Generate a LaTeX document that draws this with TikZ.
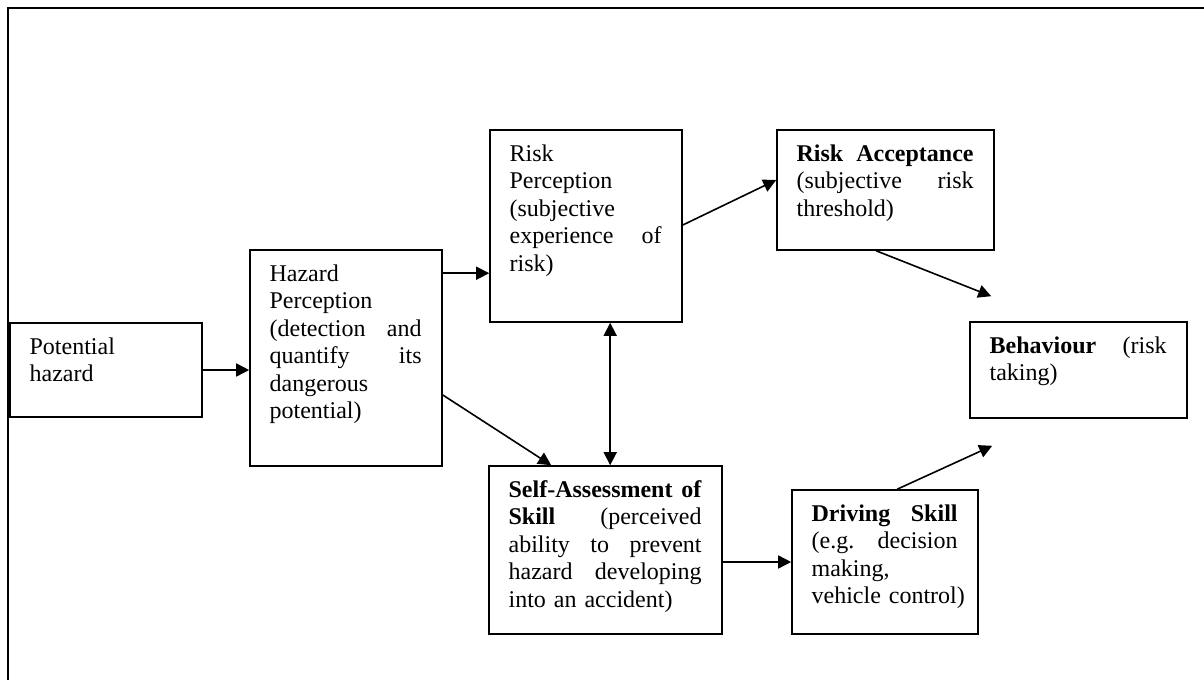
\documentclass[tikz,border=0pt]{standalone}
\usepackage{fontspec}
\setmainfont{Liberation Serif}
\usetikzlibrary{arrows.meta,calc}
\tikzset{
  boxsty/.style={draw,line width=0.8pt,inner sep=0pt,rectangle},
  txtsty/.style={anchor=north west,inner sep=0pt,align=left,font=\fontsize{12pt}{13.7pt}\selectfont},
  arr/.style={line width=0.8pt,-{Triangle[length=6.5pt,width=6.5pt]}},
  darr/.style={line width=0.8pt,{Triangle[length=6.5pt,width=6.5pt]}-{Triangle[length=6.5pt,width=6.5pt]}}
}
\newcommand{\mkbox}[6]{%
  \node[boxsty,minimum width=#4*0.5pt,minimum height=#5*0.5pt] (#1) at (#2,#3) {};
  \node[txtsty,text width=#4*0.5pt-20pt] (#1t) at ($(#1.north west)+(20,12.7)$) {#6};}
\begin{document}
\begin{tikzpicture}[x=0.5pt,y=-0.5pt]
\useasboundingbox (0,0) rectangle (1204,680);
\coordinate (fl) at (8,680);
\coordinate (fc) at (8,8);
\coordinate (fr) at (1204,8);
\draw[line width=1pt] (fl) -- (fc) -- (fr);
\mkbox{pot}{106}{370}{192}{94}{\strut Potential\\hazard}
\mkbox{hp}{346}{358}{192}{216}{\strut Hazard\\Perception\\(detection\hfill and\\quantify\hfill its\\dangerous\\potential)}
\mkbox{rp}{586}{226}{192}{192}{\strut Risk\\Perception\\(subjective\\experience\hfill of\\risk)}
\mkbox{ra}{885.5}{190}{217}{120}{\strut\textbf{Risk\hfill Acceptance}\\(subjective\hfill risk\\threshold)}
\mkbox{bh}{1078.5}{370}{217}{96}{\strut\textbf{Behaviour}\hfill(risk\\taking)}
\mkbox{sa}{605.5}{550}{233}{168}{\strut\textbf{Self-Assessment\hfill of}\\\textbf{Skill}\hfill(perceived\\ability\hfill to\hfill prevent\\hazard\hfill developing\\into an accident)}
\mkbox{ds}{885}{562}{186}{144}{\strut\textbf{Driving\hfill Skill}\\(e.g.\hfill decision\\making,\\\mbox{vehicle control)}}
\coordinate (hprp) at ($(hp.north east)+(0,24)$);
\coordinate (rabh) at ($(bh.north west)+(22,-25)$);
\coordinate (dsbh) at ($(bh.south west)+(23,27)$);
\draw[arr] (pot.east) -- (hp.west |- pot.east);
\draw[arr] (hprp) -- (rp.west |- hprp);
\draw[arr] ($(hp.east)+(0,37)$) -- ($(sa.north west)+(63,0)$);
\draw[darr] ($(rp.south west)+(121,0)$) -- ($(sa.north west)+(122,0)$);
\draw[arr] ($(rp.east)+(0,-1)$) -- ($(ra.west)+(0,-10)$);
\draw[arr] ($(ra.south west)+(100,0)$) -- (rabh);
\draw[arr] (sa.east |- ds.west) -- (ds.west);
\draw[arr] ($(ds.north west)+(106,0)$) -- (dsbh);
\end{tikzpicture}
\end{document}
